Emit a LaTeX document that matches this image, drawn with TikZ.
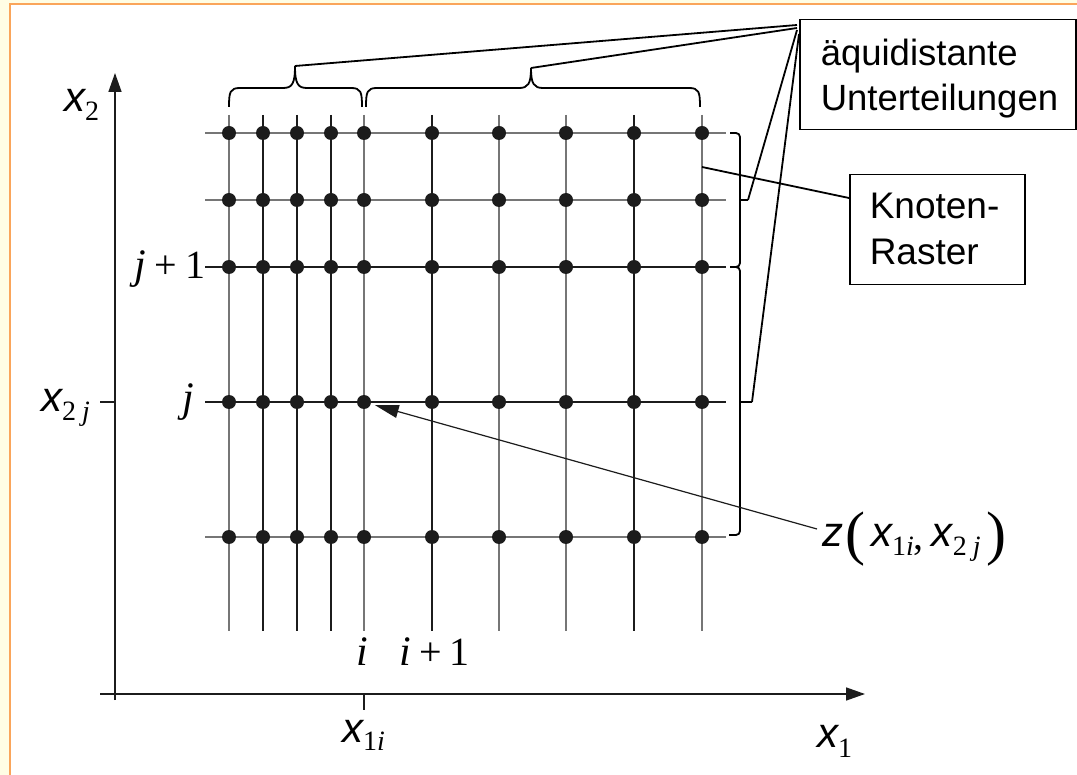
\documentclass[tikz,border=0pt]{standalone}
\usepackage{fontspec}
\setmainfont{Liberation Sans}
\newfontfamily\tmf{Liberation Serif}
\usetikzlibrary{arrows.meta}
\definecolor{frameorange}{RGB}{250,165,90}
\definecolor{frameyellow}{RGB}{255,253,228}
\definecolor{gridgray}{RGB}{118,118,118}
\definecolor{griddark}{RGB}{28,28,28}
\newcommand\VarA[1]{{\fontsize{42}{42}\selectfont\itshape #1}}
\newcommand\SubR[1]{{\fontsize{28}{28}\selectfont\tmf #1}}
\newcommand\SubI[1]{{\fontsize{28}{28}\selectfont\tmf\itshape #1}}
\newcommand\IdxI[1]{{\fontsize{42}{42}\selectfont\tmf\itshape #1}}
\newcommand\IdxR[1]{{\fontsize{40}{40}\selectfont\tmf #1}}
\newcommand\BigPar[1]{\raisebox{-6pt}{\fontsize{60}{60}\selectfont\tmf #1}}
\begin{document}
\begin{tikzpicture}[x=1pt,y=-1pt,
  gridline/.style={line width=1.2pt},
  dotn/.style={circle,fill=griddark,inner sep=0pt,minimum size=14pt},
  axisline/.style={line width=1.5pt,griddark},
  bracepath/.style={line width=1.8pt,black},
  leader/.style={line width=1.8pt,black},
  labelbox/.style={draw,line width=1.5pt,align=left,inner ysep=0pt},
  lbl/.style={anchor=base west,inner sep=0pt}]
\useasboundingbox (0,0) rectangle (1077,775);
% frame
\fill[frameyellow] (0,0) rectangle (1077,775);
\fill[white] (10,4) rectangle (1077,775);
\draw[frameorange,line width=2pt] (10,775) -- (10,4.5) -- (1077,4.5);
% grid lines
\foreach \x/\c in {229/gridgray,263/griddark,297/griddark,331/griddark,364/gridgray,432/griddark,499/gridgray,566/gridgray,634/griddark,702/gridgray}
  \draw[gridline,\c] (\x,115) -- (\x,631);
\foreach \y/\c in {133/gridgray,200/gridgray,267/griddark,402/griddark,537/gridgray}
  \draw[gridline,\c] (205,\y) -- (726,\y);
% dots
\foreach \x [count=\i] in {229,263,297,331,364,432,499,566,634,702}
  \foreach \y [count=\j] in {133,200,267,402,537}
    \node[dotn] (d-\i-\j) at (\x,\y) {};
% axes
\coordinate (ya0) at (115,700);
\coordinate (ya1) at (115,73);
\coordinate (xa0) at (100,694);
\coordinate (xa1) at (865,694);
\draw[axisline,-{Triangle[length=19pt,width=13pt]}] (ya0) -- (ya1);
\draw[axisline,-{Triangle[length=19pt,width=13pt]}] (xa0) -- (xa1);
\coordinate (tx0) at (364,694); \coordinate (tx1) at (364,710);
\coordinate (ty0) at (100,402); \coordinate (ty1) at (115,402);
\draw[axisline,line width=1.2pt] (tx0) -- (tx1);
\draw[axisline,line width=1.2pt] (ty0) -- (ty1);
% top braces
\coordinate (btA) at (295,66);
\coordinate (btB) at (531,68);
\draw[bracepath] (229,107) .. controls (229,92) and (230,88) .. (240,88) -- (283,88)
   .. controls (292,88) and (295,84) .. (btA) .. controls (295,84) and (298,88) .. (307,88)
   -- (351,88) .. controls (361,88) and (362,92) .. (362,107);
\draw[bracepath] (366,107) .. controls (366,92) and (367,88) .. (377,88) -- (519,88)
   .. controls (528,88) and (531,84) .. (btB) .. controls (531,84) and (534,88) .. (543,88)
   -- (689,88) .. controls (699,88) and (700,92) .. (700,107);
% right brackets
\coordinate (rtA) at (748,200);
\coordinate (rtB) at (752,402);
\draw[bracepath,rounded corners=4pt] (730,133) -| (740,267) -- (730,267);
\draw[bracepath] (740,200) -- (rtA);
\draw[bracepath,rounded corners=4pt] (730,267) -| (740,535) -- (729,535);
\draw[bracepath] (740,402) -- (rtB);
% boxes
\node[labelbox,anchor=north west,text width=234pt,inner xsep=21pt,text height=46pt,text depth=64pt,font=\fontsize{36.5}{45}\selectfont] (aq) at (799,19)
  {\mbox{äquidistante}\\\mbox{Unterteilungen}};
\node[labelbox,anchor=north west,text width=135pt,inner xsep=20pt,text height=44pt,text depth=66pt,font=\fontsize{37}{46}\selectfont] (kr) at (849,174)
  {\mbox{Knoten-}\\\mbox{Raster}};
% leaders to aq box
\coordinate (aq1) at (797,25);
\coordinate (aq2) at (797,28);
\coordinate (aq3) at (797,30);
\coordinate (aq4) at (799,34);
\draw[leader] (btA) -- (aq1);
\draw[leader] (btB) -- (aq2);
\draw[leader] (rtA) -- (aq3);
\draw[leader] (rtB) -- (aq4);
% Knoten leader
\coordinate (kp) at (702,167);
\coordinate (kin) at (849,198);
\draw[leader] (kp) -- (kin);
% labels
\node[lbl] (lx2) at (64,112) {\VarA{x}\raisebox{-9pt}{\SubR{2}}};
\node[lbl] (lx2j) at (41,412) {\VarA{x}\raisebox{-9pt}{\SubR{2}\hspace{6pt}\SubI{j}}};
\node[lbl] (ljp) at (134,279) {\IdxI{j}\hspace{9pt}\IdxR{+}\hspace{8pt}\IdxR{1}};
\node[lbl] (lj) at (182,412) {\IdxI{j}};
\node[lbl] (li) at (356,665) {\IdxI{i}};
\node[lbl] (lip) at (399,665) {\IdxI{i}\hspace{9pt}\IdxR{+}\hspace{7pt}\IdxR{1}};
\node[lbl] (lx1i) at (342,742) {\VarA{x}\raisebox{-8pt}{\SubR{1}\SubI{i}}};
\node[lbl] (lx1) at (817,747) {\VarA{x}\raisebox{-10pt}{\SubR{1}}};
\node[lbl] (lz) at (822,547) {\VarA{z}\hspace{2pt}\BigPar{(}\hspace{6pt}\VarA{x}\raisebox{-9pt}{\SubR{1}\SubI{i}}\raisebox{-3pt}{\IdxR{,}}\hspace{8pt}\VarA{x}\raisebox{-9pt}{\SubR{2}\hspace{6pt}\SubI{j}}\hspace{6pt}\BigPar{)}};
% z leader arrow
\coordinate (zl) at (817,529);
\draw[line width=1.2pt,griddark,-{Triangle[length=24pt,width=13pt]},shorten >=4pt] (zl) -- (d-5-4);
\end{tikzpicture}
\end{document}
